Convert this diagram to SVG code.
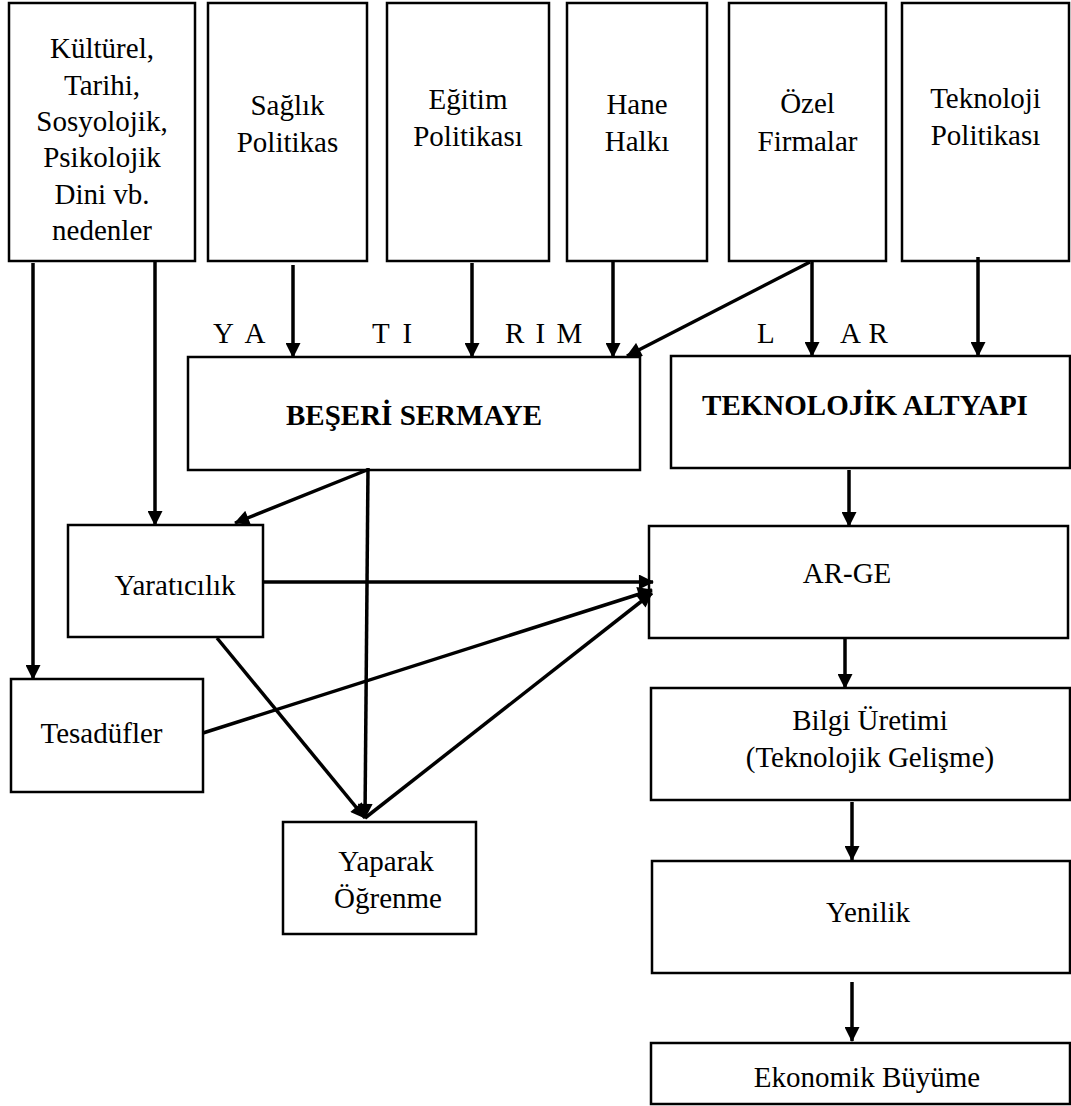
<svg xmlns="http://www.w3.org/2000/svg" width="1071" height="1106" viewBox="0 0 1071 1106">
<style>
.box{fill:#fff;stroke:#000;stroke-width:2.5}
.t{font-family:"Liberation Serif","Times New Roman",serif;font-size:29px;fill:#000;text-anchor:middle}
.b{font-weight:bold}
.l{text-anchor:start}
.c{stroke:#000;stroke-width:3.5;fill:none;marker-end:url(#ah)}
</style>
<defs>
<marker id="ah" viewBox="0 0 16 16" refX="15" refY="8" markerWidth="16" markerHeight="15" markerUnits="userSpaceOnUse" orient="auto">
<path d="M0,0 L16,8 L0,16 z" fill="#000"/>
</marker>
</defs>
<rect width="1071" height="1106" fill="#fff"/>
<g id="n-kultur"><rect class="box" x="9" y="3" width="186" height="258"/>
<text class="t" x="102" y="58">Kültürel,</text><text class="t" x="102" y="94.5">Tarihi,</text><text class="t" x="102" y="131">Sosyolojik,</text><text class="t" x="102" y="167">Psikolojik</text><text class="t" x="102" y="203.5">Dini vb.</text><text class="t" x="102" y="240">nedenler</text></g>
<g id="n-saglik"><rect class="box" x="208" y="3" width="159" height="258"/>
<text class="t" x="287.5" y="115">Sağlık</text><text class="t" x="287.5" y="152">Politikas</text></g>
<g id="n-egitim"><rect class="box" x="387" y="3" width="162" height="258"/>
<text class="t" x="468" y="109">Eğitim</text><text class="t" x="468" y="146">Politikası</text></g>
<g id="n-hane"><rect class="box" x="567" y="3" width="140" height="258"/>
<text class="t" x="637" y="114">Hane</text><text class="t" x="637" y="151">Halkı</text></g>
<g id="n-ozel"><rect class="box" x="729" y="3" width="157" height="258"/>
<text class="t" x="807.5" y="113">Özel</text><text class="t" x="807.5" y="151">Firmalar</text></g>
<g id="n-teknoloji"><rect class="box" x="902" y="3" width="167" height="258"/>
<text class="t" x="985.5" y="107.5">Teknoloji</text><text class="t" x="985.5" y="145">Politikası</text></g>
<g id="labels">
<text class="t l" x="213" y="343" letter-spacing="3">Y A</text><text class="t l" x="372" y="343" letter-spacing="3">T I</text><text class="t l" x="505" y="343" letter-spacing="2">R I M</text><text class="t l" x="757" y="343">L</text><text class="t l" x="840" y="343" letter-spacing="1">A R</text>
</g>
<g id="n-beseri"><rect class="box" x="188" y="357" width="452" height="113"/>
<text class="t b" x="414" y="425">BEŞERİ SERMAYE</text></g>
<g id="n-altyapi"><rect class="box" x="671" y="356" width="399" height="112"/>
<text class="t b" x="865" y="415">TEKNOLOJİK ALTYAPI</text></g>
<g id="n-yaraticilik"><rect class="box" x="68" y="525" width="195" height="112"/>
<text class="t" x="175" y="595">Yaratıcılık</text></g>
<g id="n-tesaduf"><rect class="box" x="11" y="679" width="192" height="113"/>
<text class="t" x="101.5" y="743">Tesadüfler</text></g>
<g id="n-yaparak"><rect class="box" x="283" y="822" width="193" height="112"/>
<text class="t" x="386" y="871">Yaparak</text><text class="t" x="388" y="908">Öğrenme</text></g>
<g id="n-arge"><rect class="box" x="649" y="526" width="419" height="112"/>
<text class="t" x="847" y="583">AR-GE</text></g>
<g id="n-bilgi"><rect class="box" x="651" y="688" width="419" height="112"/>
<text class="t" x="870" y="730">Bilgi Üretimi</text><text class="t" x="870" y="767">(Teknolojik Gelişme)</text></g>
<g id="n-yenilik"><rect class="box" x="652" y="861" width="418" height="112"/>
<text class="t" x="868" y="922">Yenilik</text></g>
<g id="n-buyume"><rect class="box" x="651" y="1043" width="419" height="61"/>
<text class="t" x="867" y="1087">Ekonomik Büyüme</text></g>
<g id="connectors">
<line class="c" x1="33" y1="263" x2="33" y2="679"/>
<line class="c" x1="155" y1="261" x2="155" y2="525"/>
<line class="c" x1="293" y1="265" x2="293" y2="357"/>
<line class="c" x1="472" y1="263" x2="472" y2="357"/>
<line class="c" x1="613" y1="260" x2="613" y2="357"/>
<line class="c" x1="810" y1="262" x2="627" y2="356"/>
<line class="c" x1="812" y1="262" x2="812" y2="356"/>
<line class="c" x1="978" y1="257" x2="978" y2="356"/>
<line class="c" x1="849" y1="470" x2="849" y2="526"/>
<line class="c" x1="845" y1="638" x2="845" y2="688"/>
<line class="c" x1="852" y1="802" x2="852" y2="860"/>
<line class="c" x1="852" y1="982" x2="852" y2="1041"/>
<line class="c" x1="367" y1="470" x2="235" y2="523"/>
<line class="c" x1="368" y1="468" x2="365" y2="818"/>
<line class="c" x1="263" y1="582" x2="653" y2="582"/>
<line class="c" x1="203" y1="733" x2="652" y2="590"/>
<line class="c" x1="217" y1="638" x2="365" y2="818"/>
<line class="c" x1="365" y1="818" x2="652" y2="593"/>
</g>
</svg>
